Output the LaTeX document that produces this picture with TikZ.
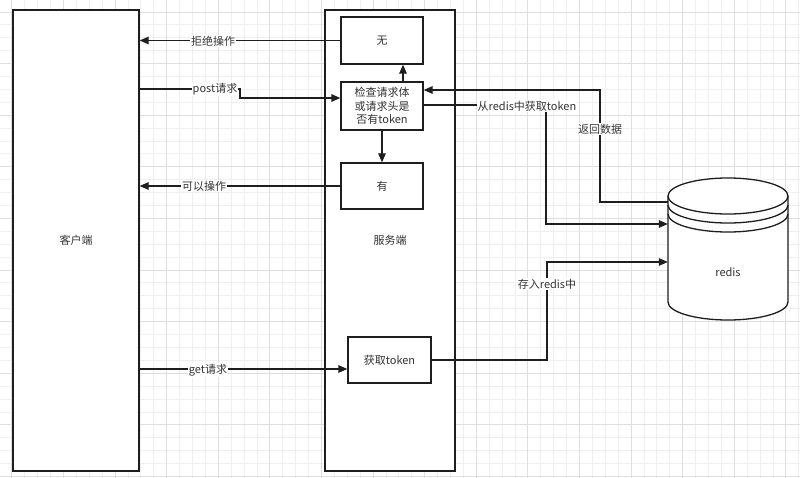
\documentclass[tikz,border=0pt]{standalone}
\usepackage{fontspec}
\setmainfont{Noto Sans CJK SC}
\usetikzlibrary{arrows.meta}
\definecolor{linec}{HTML}{1E1E1E}
\definecolor{textc}{HTML}{333333}
\definecolor{gminor}{HTML}{EFEFEF}
\definecolor{gmajor}{HTML}{DEDEDE}
\begin{document}
\begin{tikzpicture}[x=1pt,y=-1pt,
  box/.style={draw=linec, line width=1.3pt, fill=white, text=textc,
    font=\fontsize{11}{13.5}\selectfont, inner sep=0pt, align=center},
  conn/.style={draw=linec, line width=1.3pt},
  arr/.style={conn, -{Triangle[length=9pt,width=7.5pt]}},
  lbl/.style={fill=white, text=textc, font=\fontsize{11}{13}\selectfont, inner sep=1pt},
  gridminor/.style={draw=gminor, line width=0.8pt},
  gridmajor/.style={draw=gmajor, line width=0.8pt}]
\useasboundingbox (0,0) rectangle (800,478);
\fill[white] (0,0) rectangle (800,478);
% grid
\foreach \i in {0,...,62} \draw[gridminor] ({-1.1+12.9*\i},0) -- ({-1.1+12.9*\i},478);
\foreach \i in {0,...,38} \draw[gridminor] (0,{-0.9+12.9*\i}) -- (800,{-0.9+12.9*\i});
\foreach \i in {0,...,15} \draw[gridmajor] ({11.8+51.6*\i},0) -- ({11.8+51.6*\i},478);
\foreach \i in {0,...,9} \draw[gridmajor] (0,{12+51.6*\i}) -- (800,{12+51.6*\i});

% main boxes
\node[box, minimum width=126pt, minimum height=461pt] (client) at (76,240.5) {客户端};
\node[box, minimum width=130pt, minimum height=461pt] (server) at (390,240.5) {服务端};
\node[box, minimum width=82pt, minimum height=47pt] (no) at (382,40.5) {无};
\node[box, minimum width=82pt, minimum height=48pt] (check) at (382,106) {检查请求体\\或请求头是\\否有token};
\node[box, minimum width=82pt, minimum height=46pt] (yes) at (382,186) {有};
\node[box, minimum width=83pt, minimum height=46pt] (gettok) at (389.5,360) {获取token};

% redis cylinder
\node[minimum width=120pt, minimum height=142pt, inner sep=0pt] (redis) at (728,249) {};
\filldraw[conn, fill=white] (668,196) -- (668,302)
  arc[start angle=180, end angle=360, x radius=60pt, y radius=18pt] -- (788,196)
  arc[start angle=0, end angle=180, x radius=60pt, y radius=18pt] -- cycle;
\draw[conn] (668,196) arc[start angle=180, end angle=360, x radius=60pt, y radius=18pt];
\draw[conn] (668,205) arc[start angle=180, end angle=360, x radius=60pt, y radius=18pt];
\draw[conn] (668,214) arc[start angle=180, end angle=360, x radius=60pt, y radius=18pt];
\node[text=textc, font=\fontsize{11}{13}\selectfont] (redislbl) at (728,272) {redis};

% helper coordinates
\coordinate (p1) at (240,89);
\coordinate (p2) at (240,98);
\coordinate (ux) at (403,0);
\coordinate (r1) at (546,105);
\coordinate (r2) at (546,224);
\coordinate (b1) at (600,202);
\coordinate (b2) at (600,90);
\coordinate (g1) at (0,369);
\coordinate (s1) at (547,360);
\coordinate (s2) at (547,262);

% connectors
\draw[arr] (no.west) -- (client.east |- no.west);
\node[lbl] (l1) at (213,41) {拒绝操作};

\draw[arr] (client.east |- p1) -- (p1) -- (p2) -- (check.west |- p2);
\node[lbl] (l2) at (215,89) {post请求};

\draw[arr] (check.north -| ux) -- (no.south -| ux);
\draw[arr] (check.south) -- (yes.north);

\draw[arr] (yes.west) -- (client.east |- yes.west);
\node[lbl] (l3) at (204,186) {可以操作};

\draw[arr] (check.east |- r1) -- (r1) -- (r2) -- (redis.west |- r2);
\node[lbl] (l4) at (527,106) {从redis中获取token};

\draw[arr] (redis.west |- b1) -- (b1) -- (b2) -- (check.east |- b2);
\node[lbl] (l5) at (600,129) {返回数据};

\draw[arr] (client.east |- g1) -- (gettok.west |- g1);
\node[lbl] (l6) at (208,370) {get请求};

\draw[arr] (gettok.east) -- (s1) -- (s2) -- (redis.west |- s2);
\node[lbl] (l7) at (547,284) {存入redis中};
\end{tikzpicture}
\end{document}
